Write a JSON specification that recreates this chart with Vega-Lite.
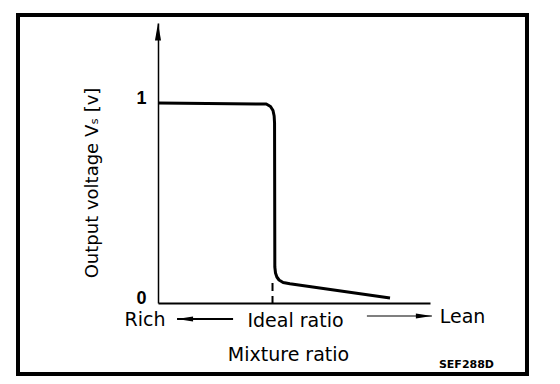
{
  "$schema": "https://vega.github.io/schema/vega-lite/v6.json",
  "autosize": {"type": "none"},
  "padding": {"left": 158, "top": 23, "right": 130, "bottom": 81},
  "width": 272,
  "height": 280,
  "background": "white",
  "config": {
    "view": {"stroke": null},
    "font": "DejaVu Sans",
    "axisX": {
      "labels": false, "ticks": false, "tickSize": 0, "grid": false,
      "domainColor": "black", "domainWidth": 2,
      "titleFont": "DejaVu Sans", "titleFontSize": 19, "titleFontWeight": "normal", "titleColor": "black",
      "titleX": 130, "titleY": 57, "titleBaseline": "alphabetic", "titleAlign": "center"
    },
    "axisY": {
      "ticks": false, "tickSize": 0, "grid": false,
      "domainColor": "black", "domainWidth": 1.5,
      "labelFont": "Liberation Sans", "labelFontWeight": "bold", "labelFontSize": 18, "labelColor": "black",
      "labelPadding": 12, "labelOffset": -5, "labelFlush": false, "labelOverlap": false,
      "titleFont": "DejaVu Sans", "titleFontSize": 18, "titleFontWeight": "normal", "titleColor": "black",
      "titleX": -61, "titleY": 159.5, "titleAngle": 270, "titleAlign": "center", "titleBaseline": "alphabetic"
    }
  },
  "datasets": {
    "curve": [
      {"ratio": 0, "voltage": 1.0},
      {"ratio": 39.8, "voltage": 0.995},
      {"ratio": 41.36, "voltage": 0.9825},
      {"ratio": 42.28, "voltage": 0.9625},
      {"ratio": 42.7, "voltage": 0.935},
      {"ratio": 42.85, "voltage": 0.9},
      {"ratio": 42.95, "voltage": 0.18},
      {"ratio": 43.2, "voltage": 0.15},
      {"ratio": 43.7, "voltage": 0.13},
      {"ratio": 44.5, "voltage": 0.115},
      {"ratio": 46.0, "voltage": 0.1025},
      {"ratio": 48.5, "voltage": 0.096},
      {"ratio": 85.3, "voltage": 0.025}
    ],
    "frame": [{"left": -51.47, "right": 135.66, "top": 1.44, "bottom": -0.355}],
    "ideal": [{"ratio": 42.1, "top": 0.1, "bottom": 0}],
    "yArrow": [{"ratio": 0, "voltage": 1.4}],
    "dirArrows": [
      {"from": 7.0, "to": 27.6, "voltage": -0.08, "dir": "rich"},
      {"from": 76.8, "to": 100.7, "voltage": -0.065, "dir": "lean"}
    ],
    "words": [
      {"ratio": -4.78, "voltage": -0.115, "text": "Rich"},
      {"ratio": 50.55, "voltage": -0.12, "text": "Ideal ratio"},
      {"ratio": 111.95, "voltage": -0.0975, "text": "Lean"}
    ],
    "code": [{"ratio": 113.4, "voltage": -0.325, "text": "SEF288D"}]
  },
  "layer": [
    {
      "data": {"name": "curve"},
      "mark": {"type": "line", "color": "black", "strokeWidth": 3, "strokeJoin": "round", "clip": false},
      "encoding": {
        "x": {
          "field": "ratio", "type": "quantitative", "title": "Mixture ratio",
          "scale": {"domain": [0, 100], "nice": false, "zero": false}
        },
        "y": {
          "field": "voltage", "type": "quantitative", "title": "Output voltage Vₛ [v]",
          "scale": {"domain": [0, 1.4], "nice": false, "zero": false},
          "axis": {"values": [0, 1], "format": "d"}
        }
      }
    },
    {
      "data": {"name": "ideal"},
      "mark": {"type": "rule", "color": "black", "strokeWidth": 2, "strokeDash": [8, 5]},
      "encoding": {
        "x": {"field": "ratio", "type": "quantitative", "title": "Mixture ratio"},
        "y": {"field": "top", "type": "quantitative", "title": "Output voltage Vₛ [v]"},
        "y2": {"field": "bottom"}
      }
    },
    {
      "data": {"name": "yArrow"},
      "mark": {"type": "point", "shape": "M0,0L0.38,2.2L-0.38,2.2Z", "size": 256, "filled": true, "color": "black", "opacity": 1, "strokeWidth": 0, "clip": false},
      "encoding": {
        "x": {"field": "ratio", "type": "quantitative", "title": "Mixture ratio"},
        "y": {"field": "voltage", "type": "quantitative", "title": "Output voltage Vₛ [v]"}
      }
    },
    {
      "data": {"name": "dirArrows"},
      "transform": [{"filter": "datum.dir === 'rich'"}],
      "mark": {"type": "rule", "color": "black", "strokeWidth": 2, "clip": false},
      "encoding": {
        "x": {"field": "from", "type": "quantitative", "title": "Mixture ratio"},
        "x2": {"field": "to"},
        "y": {"field": "voltage", "type": "quantitative", "title": "Output voltage Vₛ [v]"}
      }
    },
    {
      "data": {"name": "dirArrows"},
      "transform": [{"filter": "datum.dir === 'lean'"}],
      "mark": {"type": "rule", "color": "black", "strokeWidth": 1.2, "clip": false},
      "encoding": {
        "x": {"field": "from", "type": "quantitative", "title": "Mixture ratio"},
        "x2": {"field": "to"},
        "y": {"field": "voltage", "type": "quantitative", "title": "Output voltage Vₛ [v]"}
      }
    },
    {
      "data": {"name": "dirArrows"},
      "transform": [{"filter": "datum.dir === 'rich'"}],
      "mark": {"type": "point", "shape": "M0,0L2,-0.32L2,0.32Z", "size": 256, "filled": true, "color": "black", "opacity": 1, "strokeWidth": 0, "clip": false},
      "encoding": {
        "x": {"field": "from", "type": "quantitative", "title": "Mixture ratio"},
        "y": {"field": "voltage", "type": "quantitative", "title": "Output voltage Vₛ [v]"}
      }
    },
    {
      "data": {"name": "dirArrows"},
      "transform": [{"filter": "datum.dir === 'lean'"}],
      "mark": {"type": "point", "shape": "M0,0L-2,-0.32L-2,0.32Z", "size": 256, "filled": true, "color": "black", "opacity": 1, "strokeWidth": 0, "clip": false},
      "encoding": {
        "x": {"field": "to", "type": "quantitative", "title": "Mixture ratio"},
        "y": {"field": "voltage", "type": "quantitative", "title": "Output voltage Vₛ [v]"}
      }
    },
    {
      "data": {"name": "words"},
      "mark": {"type": "text", "font": "DejaVu Sans", "fontSize": 19, "color": "black", "align": "center", "baseline": "alphabetic", "clip": false},
      "encoding": {
        "x": {"field": "ratio", "type": "quantitative", "title": "Mixture ratio"},
        "y": {"field": "voltage", "type": "quantitative", "title": "Output voltage Vₛ [v]"},
        "text": {"field": "text"}
      }
    },
    {
      "data": {"name": "code"},
      "mark": {"type": "text", "font": "DejaVu Sans", "fontSize": 11, "fontWeight": "bold", "color": "black", "align": "center", "baseline": "alphabetic", "clip": false},
      "encoding": {
        "x": {"field": "ratio", "type": "quantitative", "title": "Mixture ratio"},
        "y": {"field": "voltage", "type": "quantitative", "title": "Output voltage Vₛ [v]"},
        "text": {"field": "text"}
      }
    },
    {
      "data": {"name": "frame"},
      "mark": {"type": "rect", "filled": false, "stroke": "black", "strokeWidth": 4, "clip": false},
      "encoding": {
        "x": {"field": "left", "type": "quantitative", "title": "Mixture ratio"},
        "x2": {"field": "right"},
        "y": {"field": "top", "type": "quantitative", "title": "Output voltage Vₛ [v]"},
        "y2": {"field": "bottom"}
      }
    }
  ]
}
